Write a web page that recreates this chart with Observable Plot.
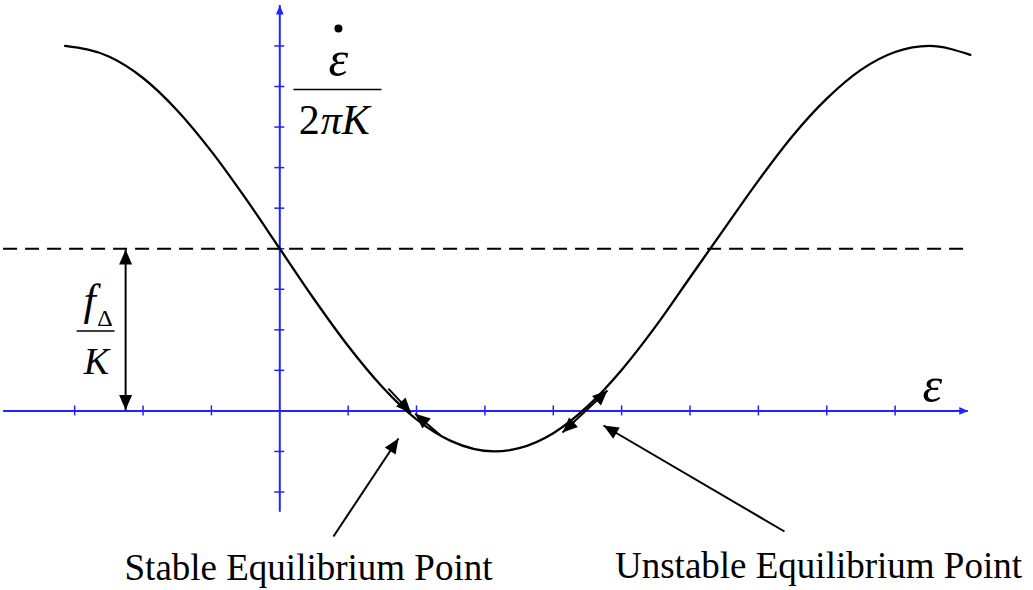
<!DOCTYPE html>
<html>
<head>
<meta charset="utf-8">
<script src="https://cdn.jsdelivr.net/npm/d3@7"></script>
<script src="https://cdn.jsdelivr.net/npm/@observablehq/plot@0.6"></script>
<style>
  html, body { margin: 0; padding: 0; background: #fff; }
  #chart svg { display: block; }
</style>
</head>
<body>
<div id="chart"></div>
<script>
// Phase error ε (horizontal) and normalized rate ε̇ / (2πK) (vertical) along the curve
const epsilon = [-3.14, -2.5, -2, -1.5, -1, -0.5, 0, 0.5, 1, 1.5, 2, 2.5, 3.14, 3.5, 4, 4.5, 5, 5.5, 6, 6.5, 7, 7.5, 8, 8.5, 9, 9.5, 10.1];
const rate    = [9.0, 8.74, 8.21, 7.41, 6.40, 5.24, 4.0, 2.76, 1.60, 0.59, -0.21, -0.74, -1.0, -0.92, -0.55, 0.11, 1.01, 2.09, 3.29, 4.49, 5.68, 6.78, 7.70, 8.41, 8.85, 9.0, 8.78];

// Frequency offset level f_Δ / K
const offsetLevel = 4;

// Axis tick positions
const xTicks = [-3, -2, -1, 1, 2, 3, 4, 5, 6, 7, 8, 9];
const yTicks = [-2, -1, 1, 2, 3, 4, 5, 6, 7, 8, 9];

// Axis extents (arrow tips at the far ends)
const xAxisExtent = [-4.04, 10.07];
const yAxisExtent = [-2.5, 10.0];
const dashedExtent = [-4.04, 10.03];

// Arrows: straight shafts with filled heads
const arrows = [
  {x1: -2.255, y1: 0.02, x2: -2.255, y2: 3.98, heads: "both"},   // f_Δ / K span
  {x1: 1.589, y1: 0.55, x2: 1.92, y2: -0.05, heads: "end"},      // towards stable point from the left
  {x1: 2.35, y1: -0.60, x2: 1.98, y2: -0.07, heads: "end"},      // towards stable point from the right
  {x1: 4.135, y1: -0.533, x2: 4.793, y2: 0.503, heads: "both"},  // away from unstable point
  {x1: 0.785, y1: -3.097, x2: 1.736, y2: -0.681, heads: "end"},  // stable label pointer
  {x1: 7.382, y1: -2.974, x2: 4.735, y2: -0.36, heads: "end"}    // unstable label pointer
];

// Text labels
const equilibriumLabels = [
  {x: 0.42, y: -4.18, text: "Stable Equilibrium Point"},
  {x: 7.879, y: -4.11, text: "Unstable Equilibrium Point"}
];
const epsilonLabels = [
  {x: 9.545, y: 0.23, text: "ε"},     // horizontal axis name
  {x: 0.858, y: 8.27, text: "ε"}      // numerator of the vertical axis name
];
const denominatorTwo = [{x: 0.585, y: 6.84, text: "2"}];
const denominatorPiK = [{x: 0.60, y: 6.84, text: "πK"}];
const offsetNumerator = [{x: -2.78, y: 2.377, text: "f"}];
const offsetSubscript = [{x: -2.557, y: 2.106, text: "Δ"}];
const offsetDenominator = [{x: -2.681, y: 0.922, text: "K"}];
const fractionBars = [
  {x1: 0.20, x2: 1.487, y: 7.925},
  {x1: -2.972, x2: -2.417, y: 1.97}
];
const derivativeDot = [{x: 0.858, y: 9.43}];

const W = 1033, H = 590;
const X_DOMAIN = [-4.085, 11.024];
const Y_DOMAIN = [-4.429, 10.121];
const kx = W / (X_DOMAIN[1] - X_DOMAIN[0]);
const ky = H / (Y_DOMAIN[1] - Y_DOMAIN[0]);

const AXIS_BLUE = "#2323ff";
const SERIF = "'Liberation Serif', 'Times New Roman', serif";

// Filled triangular arrowhead with its tip at the anchor, pointing up before rotation
const arrowHead = {
  draw(context, size) {
    const r = Math.sqrt(size / Math.PI);
    context.moveTo(0, 0);
    context.lineTo(-1.3 * r, 3 * r);
    context.lineTo(1.3 * r, 3 * r);
    context.closePath();
  }
};

// Screen-space heading (degrees clockwise from up) for a head going from (xa, ya) to (xb, yb)
const heading = (xa, ya, xb, yb) =>
  Math.atan2((xb - xa) * kx, (yb - ya) * ky) * 180 / Math.PI;

const heads = arrows.flatMap(a => {
  const out = [{x: a.x2, y: a.y2, angle: heading(a.x1, a.y1, a.x2, a.y2)}];
  if (a.heads === "both") out.push({x: a.x1, y: a.y1, angle: heading(a.x2, a.y2, a.x1, a.y1)});
  return out;
});

const curveData = epsilon.map((e, i) => ({e, r: rate[i]}));

const axisTips = [
  {x: xAxisExtent[1], y: 0, angle: 90},
  {x: 0, y: yAxisExtent[1], angle: 0}
];

const textCommon = {x: "x", y: "y", text: "text", lineAnchor: "bottom", fontFamily: SERIF, fill: "black"};

const chart = Plot.plot({
  width: W,
  height: H,
  marginTop: 0, marginRight: 0, marginBottom: 0, marginLeft: 0,
  x: {domain: X_DOMAIN, axis: null},
  y: {domain: Y_DOMAIN, axis: null},
  style: {background: "#fff"},
  marks: [
    // coordinate axes
    Plot.ruleY([0], {x1: xAxisExtent[0], x2: xAxisExtent[1], stroke: AXIS_BLUE, strokeWidth: 2}),
    Plot.ruleX([0], {y1: yAxisExtent[0], y2: yAxisExtent[1], stroke: AXIS_BLUE, strokeWidth: 2}),
    Plot.ruleX(xTicks, {x: d => d, y1: 0, y2: 0, insetTop: -5, insetBottom: -5, stroke: AXIS_BLUE, strokeWidth: 1.5}),
    Plot.ruleY(yTicks, {y: d => d, x1: 0, x2: 0, insetLeft: -5, insetRight: -5, stroke: AXIS_BLUE, strokeWidth: 1.5}),
    Plot.dot(axisTips, {x: "x", y: "y", rotate: "angle", symbol: arrowHead, r: 3, fill: AXIS_BLUE}),

    // offset level
    Plot.ruleY([offsetLevel], {x1: dashedExtent[0], x2: dashedExtent[1], stroke: "black", strokeWidth: 2, strokeDasharray: "14,8"}),

    // rate curve
    Plot.line(curveData, {x: "e", y: "r", curve: "monotone-x", stroke: "black", strokeWidth: 2.3}),

    // arrows
    Plot.link(arrows, {x1: "x1", y1: "y1", x2: "x2", y2: "y2", stroke: "black", strokeWidth: 2}),
    Plot.dot(heads, {x: "x", y: "y", rotate: "angle", symbol: arrowHead, r: 5, fill: "black"}),

    // fraction bars and derivative dot
    Plot.link(fractionBars, {x1: "x1", x2: "x2", y1: "y", y2: "y", stroke: "black", strokeWidth: 1.6}),
    Plot.dot(derivativeDot, {x: "x", y: "y", r: 4, fill: "black"}),

    // axis names and the offset label
    Plot.text(epsilonLabels, {...textCommon, fontSize: 50, fontStyle: "italic", textAnchor: "middle"}),
    Plot.text(denominatorTwo, {...textCommon, fontSize: 42, textAnchor: "end"}),
    Plot.text(denominatorPiK, {...textCommon, fontSize: 42, fontStyle: "italic", textAnchor: "start"}),
    Plot.text(offsetNumerator, {...textCommon, fontSize: 44, fontStyle: "italic", textAnchor: "middle"}),
    Plot.text(offsetSubscript, {...textCommon, fontSize: 24, textAnchor: "middle"}),
    Plot.text(offsetDenominator, {...textCommon, fontSize: 38, fontStyle: "italic", textAnchor: "middle"}),

    // equilibrium captions
    Plot.text(equilibriumLabels, {...textCommon, fontSize: 37, textAnchor: "middle"})
  ]
});

document.getElementById("chart").appendChild(chart);
</script>
</body>
</html>
